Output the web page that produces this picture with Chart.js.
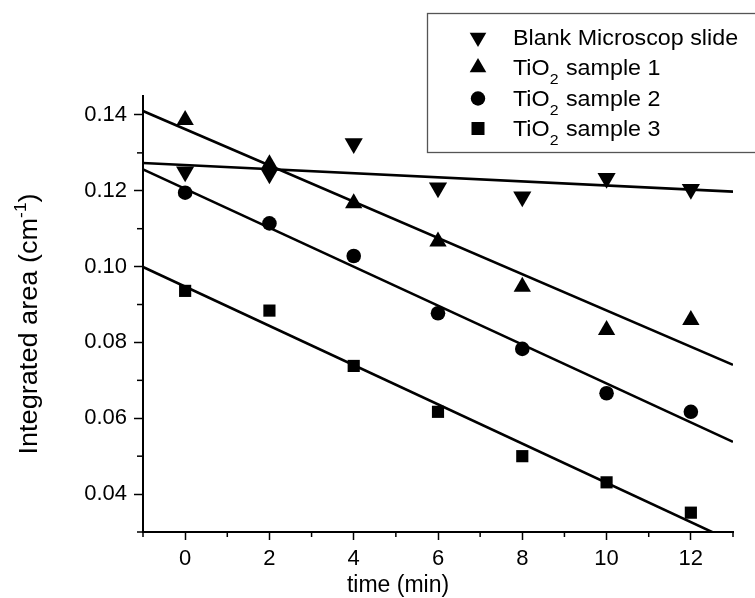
<!DOCTYPE html>
<html>
<head>
<meta charset="utf-8">
<script src="https://cdn.jsdelivr.net/npm/chart.js@4.4.1/dist/chart.umd.min.js"></script>
<style>
  html, body { margin: 0; padding: 0; background: #fff; }
  #wrap { width: 755px; height: 598px; }
</style>
</head>
<body>
<div id="wrap"><canvas id="chart" width="755" height="598"></canvas></div>
<script>
// Values
const times = [0, 2, 4, 6, 8, 10, 12];
const blankSlide = [0.1250, 0.1245, 0.1325, 0.1208, 0.1184, 0.1233, 0.1204];
const sample1 = [0.1387, 0.1270, 0.1167, 0.1066, 0.0947, 0.0833, 0.0859];
const sample2 = [0.1195, 0.1114, 0.1028, 0.0877, 0.0783, 0.0666, 0.0617];
const sample3 = [0.0936, 0.0884, 0.0738, 0.0617, 0.0500, 0.0431, 0.0351];
const seriesNames = ['Blank Microscop slide', 'TiO₂ sample 1', 'TiO₂ sample 2', 'TiO₂ sample 3'];

const xTicks = [0, 2, 4, 6, 8, 10, 12];
const xMinorTicks = [-1, 1, 3, 5, 7, 9, 11, 13];
const yTicks = [0.04, 0.06, 0.08, 0.10, 0.12, 0.14];
const yMinorTicks = [0.03, 0.05, 0.07, 0.09, 0.11, 0.13];
const fitRange = [-1, 13];

const FONT = '"Liberation Sans", Arial, sans-serif';

// least squares line through a series
function linearFit(xs, ys) {
  const n = xs.length;
  const mx = xs.reduce((a, b) => a + b, 0) / n;
  const my = ys.reduce((a, b) => a + b, 0) / n;
  let sxy = 0, sxx = 0;
  for (let i = 0; i < n; i++) {
    sxy += (xs[i] - mx) * (ys[i] - my);
    sxx += (xs[i] - mx) * (xs[i] - mx);
  }
  const m = sxy / sxx;
  return fitRange.map(x => ({ x: x, y: my + m * (x - mx) }));
}

const series = [blankSlide, sample1, sample2, sample3];
const markers = [
  { style: 'triangle', rot: 180, r: 10.5 },
  { style: 'triangle', rot: 0, r: 10 },
  { style: 'circle', rot: 0, r: 7.3 },
  { style: 'rect', rot: 0, r: 8.6 }
];

const datasets = [];
series.forEach((vals, i) => {
  datasets.push({
    label: seriesNames[i],
    data: times.map((t, j) => ({ x: t, y: vals[j] })),
    pointStyle: markers[i].style,
    rotation: markers[i].rot,
    pointRadius: markers[i].r,
    pointHoverRadius: markers[i].r,
    backgroundColor: '#000',
    borderColor: '#000',
    borderWidth: 0,
    showLine: false
  });
});
series.forEach((vals, i) => {
  datasets.push({
    label: seriesNames[i] + ' fit',
    data: linearFit(times, vals),
    showLine: true,
    pointRadius: 0,
    borderColor: '#000',
    borderWidth: 2.6,
    fill: false
  });
});

function drawMarker(ctx, m, x, y, r) {
  ctx.beginPath();
  if (m.style === 'circle') {
    ctx.arc(x, y, r, 0, Math.PI * 2);
  } else if (m.style === 'rect') {
    const s = r * Math.SQRT1_2;
    ctx.rect(x - s, y - s, 2 * s, 2 * s);
  } else {
    let rad = m.rot * Math.PI / 180;
    for (let k = 0; k < 3; k++) {
      const px = x + Math.sin(rad) * r, py = y - Math.cos(rad) * r;
      if (k === 0) ctx.moveTo(px, py); else ctx.lineTo(px, py);
      rad += 2 * Math.PI / 3;
    }
    ctx.closePath();
  }
  ctx.fill();
}

// text where "₂" is drawn as a subscript and "⁻¹" as a superscript
function drawRich(ctx, text, x, y, size) {
  text.split(/(₂|⁻¹)/).forEach(p => {
    if (!p) return;
    if (p === '₂') {
      ctx.font = Math.round(size * 0.66) + 'px ' + FONT;
      ctx.fillText('2', x, y + size * 0.42);
      x += ctx.measureText('2').width + 1;
    } else if (p === '⁻¹') {
      ctx.font = Math.round(size * 0.62) + 'px ' + FONT;
      ctx.fillText('-1', x, y - size * 0.45);
      x += ctx.measureText('-1').width;
    } else {
      ctx.font = size + 'px ' + FONT;
      ctx.fillText(p, x, y);
      x += ctx.measureText(p).width;
    }
  });
  return x;
}
function richWidth(ctx, text, size) {
  let w = 0;
  text.split(/(₂|⁻¹)/).forEach(p => {
    if (!p) return;
    if (p === '₂') { ctx.font = Math.round(size * 0.66) + 'px ' + FONT; w += ctx.measureText('2').width + 1; }
    else if (p === '⁻¹') { ctx.font = Math.round(size * 0.62) + 'px ' + FONT; w += ctx.measureText('-1').width; }
    else { ctx.font = size + 'px ' + FONT; w += ctx.measureText(p).width; }
  });
  return w;
}

const decorations = {
  id: 'decorations',
  afterDraw(chart) {
    const ctx = chart.ctx;
    const xs = chart.scales.x, ys = chart.scales.y;
    const area = chart.chartArea;
    ctx.save();
    ctx.strokeStyle = '#000';
    ctx.fillStyle = '#000';
    ctx.lineWidth = 1.5;
    // minor ticks
    xMinorTicks.forEach(v => {
      const px = xs.getPixelForValue(v);
      ctx.beginPath(); ctx.moveTo(px, area.bottom); ctx.lineTo(px, area.bottom + 5); ctx.stroke();
    });
    yMinorTicks.forEach(v => {
      const py = ys.getPixelForValue(v);
      ctx.beginPath(); ctx.moveTo(area.left, py); ctx.lineTo(area.left - 6, py); ctx.stroke();
    });

    // axis titles
    ctx.textBaseline = 'alphabetic';
    ctx.textAlign = 'left';
    const xt = 'time (min)';
    ctx.font = '23px ' + FONT;
    const xw = ctx.measureText(xt).width;
    ctx.fillText(xt, 398 - xw / 2, 592);

    const yt = 'Integrated area (cm⁻¹)';
    const yw = richWidth(ctx, yt, 25);
    ctx.translate(37, 324);
    ctx.rotate(-Math.PI / 2);
    ctx.scale(1.085, 1);
    drawRich(ctx, yt, -yw / 2, 0, 25);
    ctx.setTransform(1, 0, 0, 1, 0, 0);

    // legend box
    ctx.lineWidth = 1.3;
    ctx.strokeStyle = '#555';
    ctx.strokeRect(427.5, 13.5, 340, 139);
    const rowY = [45, 75, 106, 136];
    const legendR = [9.6, 9.6, 7.2, 9.2];
    seriesNames.forEach((name, i) => {
      drawMarker(ctx, markers[i], 478, rowY[i] - 7.5, legendR[i]);
      ctx.save();
      ctx.translate(513, rowY[i]);
      ctx.scale(1.058, 1);
      drawRich(ctx, name, 0, 0, 22);
      ctx.restore();
    });
    ctx.restore();
  }
};

const tickFont = { family: FONT, size: 22 };

new Chart(document.getElementById('chart'), {
  type: 'scatter',
  data: { datasets: datasets },
  options: {
    responsive: false,
    animation: false,
    layout: { padding: { top: 96, right: 22, left: 0, bottom: 0 } },
    plugins: { legend: { display: false }, tooltip: { enabled: false } },
    scales: {
      x: {
        type: 'linear',
        min: -1,
        max: 13,
        afterBuildTicks: s => { s.ticks = xTicks.map(v => ({ value: v })); },
        afterFit: s => { s.height = 66; },
        ticks: { color: '#000', font: tickFont, padding: 6, maxRotation: 0, autoSkip: false },
        grid: { drawOnChartArea: false, tickLength: 8, tickColor: '#000', tickWidth: 1.5 },
        border: { color: '#000', width: 2 }
      },
      y: {
        type: 'linear',
        min: 0.03,
        max: 0.145,
        afterBuildTicks: s => { s.ticks = yTicks.map(v => ({ value: v })); },
        afterFit: s => { s.width = 143; },
        ticks: { color: '#000', font: tickFont, padding: 7, callback: v => v.toFixed(2) },
        grid: { drawOnChartArea: false, tickLength: 9, tickColor: '#000', tickWidth: 1.5 },
        border: { color: '#000', width: 2 }
      }
    }
  },
  plugins: [decorations]
});
</script>
</body>
</html>
